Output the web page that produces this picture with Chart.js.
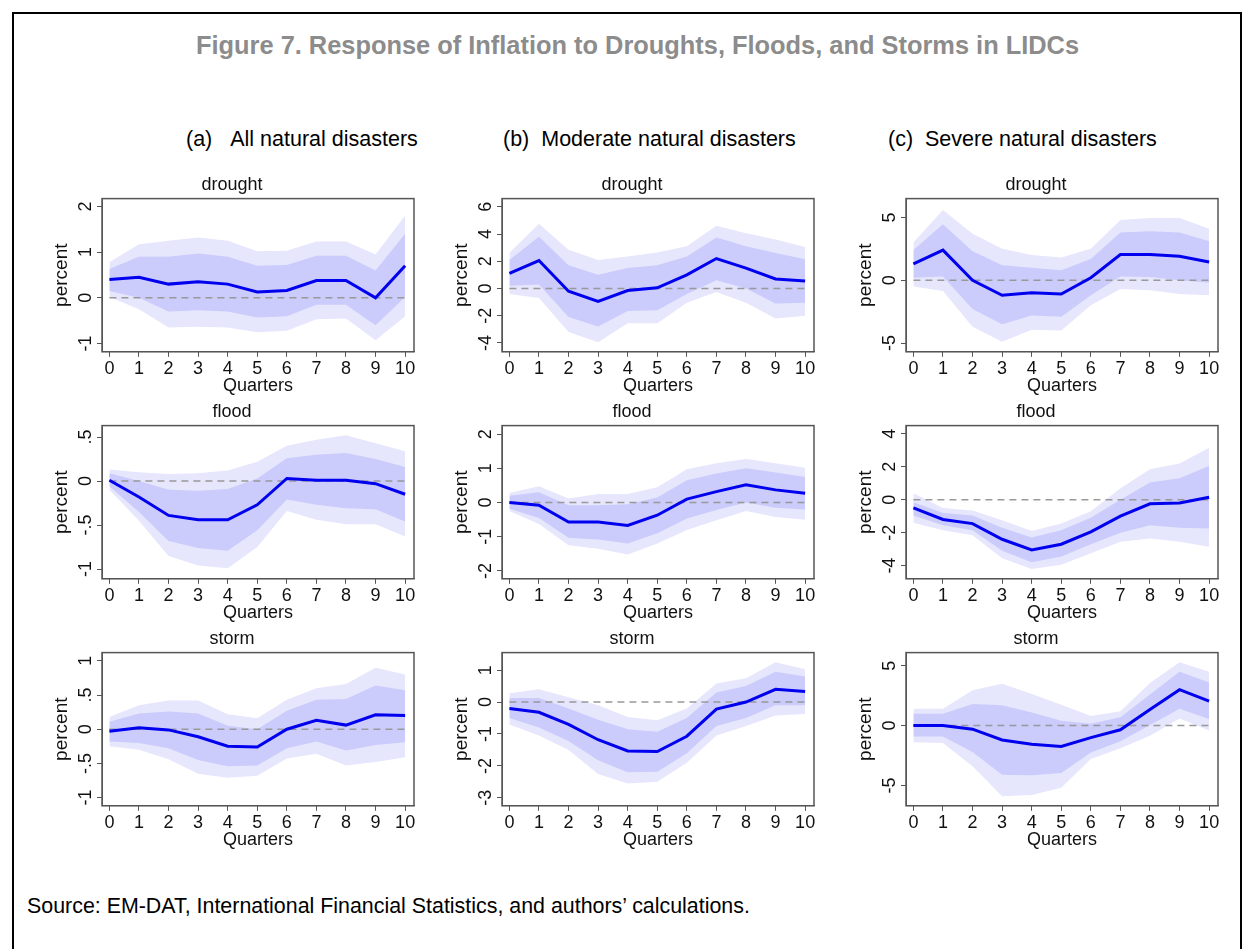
<!DOCTYPE html>
<html>
<head>
<meta charset="utf-8">
<script src="https://cdn.jsdelivr.net/npm/chart.js@4.4.0/dist/chart.umd.min.js"></script>
<style>
  body { margin: 0; background: #fff; font-family: 'Liberation Sans', Arial, sans-serif; }
  #frame { position: absolute; left: 12px; top: 12px; width: 1226px; height: 950px; border: 2px solid #000; border-bottom: none; }
  .t { position: absolute; white-space: nowrap; color: #000; }
  canvas { position: absolute; }
</style>
</head>
<body>
<div id="frame"></div>
<div class="t" style="left:196px;top:31px;font-size:25.4px;font-weight:bold;color:#8c8c8c;">Figure 7. Response of Inflation to Droughts, Floods, and Storms in LIDCs</div>
<div class="t" style="left:186px;top:127px;font-size:21.5px;">(a)&nbsp;&nbsp;&nbsp;All natural disasters</div>
<div class="t" style="left:503px;top:127px;font-size:21.5px;">(b)&nbsp; Moderate natural disasters</div>
<div class="t" style="left:888px;top:127px;font-size:21.5px;">(c)&nbsp; Severe natural disasters</div>
<div class="t" style="left:27px;top:894px;font-size:21.4px;">Source: EM-DAT, International Financial Statistics, and authors’ calculations.</div>

<canvas id="c0"></canvas><canvas id="c1"></canvas><canvas id="c2"></canvas>
<canvas id="c3"></canvas><canvas id="c4"></canvas><canvas id="c5"></canvas>
<canvas id="c6"></canvas><canvas id="c7"></canvas><canvas id="c8"></canvas>

<script>
const quarters = [0, 1, 2, 3, 4, 5, 6, 7, 8, 9, 10];

// (a) All natural disasters
const aDroughtIrf  = [0.4, 0.45, 0.3, 0.35, 0.3, 0.13, 0.16, 0.38, 0.38, 0.0, 0.7];
const aDroughtHi68 = [0.63, 0.9, 0.9, 0.97, 0.9, 0.7, 0.72, 0.92, 0.92, 0.6, 1.4];
const aDroughtLo68 = [0.15, 0.0, -0.3, -0.27, -0.3, -0.43, -0.4, -0.15, -0.15, -0.6, 0.02];
const aDroughtHi90 = [0.78, 1.17, 1.25, 1.32, 1.25, 1.02, 1.03, 1.23, 1.23, 0.95, 1.8];
const aDroughtLo90 = [0.02, -0.25, -0.65, -0.63, -0.65, -0.75, -0.72, -0.47, -0.45, -0.93, -0.4];

const aFloodIrf  = [0.01, -0.18, -0.39, -0.44, -0.44, -0.27, 0.03, 0.01, 0.01, -0.03, -0.15];
const aFloodHi68 = [0.09, 0.0, -0.1, -0.11, -0.09, 0.03, 0.26, 0.3, 0.32, 0.25, 0.16];
const aFloodLo68 = [-0.06, -0.35, -0.68, -0.76, -0.79, -0.56, -0.21, -0.27, -0.31, -0.32, -0.46];
const aFloodHi90 = [0.13, 0.1, 0.08, 0.09, 0.12, 0.22, 0.4, 0.47, 0.52, 0.43, 0.34];
const aFloodLo90 = [-0.1, -0.45, -0.85, -0.96, -0.99, -0.75, -0.34, -0.44, -0.49, -0.49, -0.63];

const aStormIrf  = [-0.03, 0.02, -0.01, -0.11, -0.25, -0.26, 0, 0.13, 0.06, 0.21, 0.2];
const aStormHi68 = [0.11, 0.23, 0.26, 0.23, 0.05, 0.0, 0.27, 0.43, 0.44, 0.64, 0.57];
const aStormLo68 = [-0.18, -0.2, -0.28, -0.45, -0.54, -0.53, -0.28, -0.18, -0.31, -0.23, -0.19];
const aStormHi90 = [0.18, 0.35, 0.42, 0.42, 0.22, 0.16, 0.43, 0.6, 0.66, 0.9, 0.8];
const aStormLo90 = [-0.25, -0.3, -0.44, -0.65, -0.71, -0.68, -0.43, -0.36, -0.53, -0.48, -0.41];

// (b) Moderate natural disasters
const bDroughtIrf  = [1.1, 2.05, -0.2, -0.95, -0.15, 0.05, 1.0, 2.2, 1.5, 0.7, 0.55];
const bDroughtHi68 = [2.1, 3.8, 1.7, 1.0, 1.5, 1.7, 2.35, 3.75, 3.1, 2.6, 2.15];
const bDroughtLo68 = [0.2, 0.3, -2.1, -2.8, -1.65, -1.6, -0.4, 0.6, 0, -1.1, -1.05];
const bDroughtHi90 = [2.6, 4.75, 2.85, 2.1, 2.35, 2.65, 3.1, 4.6, 4.05, 3.6, 3.05];
const bDroughtLo90 = [-0.4, -0.7, -3.2, -3.95, -2.55, -2.55, -1.05, -0.25, -1.05, -2.2, -2.0];

const bFloodIrf  = [0, -0.08, -0.57, -0.57, -0.67, -0.37, 0.1, 0.32, 0.52, 0.37, 0.27];
const bFloodHi68 = [0.2, 0.3, -0.08, -0.08, -0.05, 0.15, 0.65, 0.85, 1.0, 0.88, 0.75];
const bFloodLo68 = [-0.18, -0.45, -1.03, -1.08, -1.2, -0.9, -0.47, -0.22, 0, -0.15, -0.2];
const bFloodHi90 = [0.28, 0.48, 0.12, 0.25, 0.25, 0.45, 0.97, 1.15, 1.27, 1.15, 1.02];
const bFloodLo90 = [-0.25, -0.63, -1.25, -1.35, -1.52, -1.2, -0.8, -0.52, -0.25, -0.42, -0.5];

const bStormIrf  = [-0.2, -0.32, -0.7, -1.18, -1.53, -1.55, -1.07, -0.22, 0, 0.4, 0.33];
const bStormHi68 = [0.13, 0.13, -0.2, -0.55, -0.85, -0.93, -0.5, 0.3, 0.5, 0.95, 0.8];
const bStormLo68 = [-0.5, -0.8, -1.22, -1.82, -2.2, -2.18, -1.6, -0.75, -0.5, -0.1, -0.1];
const bStormHi90 = [0.28, 0.4, 0.15, -0.1, -0.47, -0.57, -0.2, 0.58, 0.75, 1.25, 1.03];
const bStormLo90 = [-0.7, -1.05, -1.5, -2.25, -2.55, -2.5, -1.9, -1.05, -0.75, -0.42, -0.37];

// (c) Severe natural disasters
const cDroughtIrf  = [1.3, 2.4, 0, -1.2, -1.0, -1.1, 0.2, 2.05, 2.05, 1.9, 1.45];
const cDroughtHi68 = [2.4, 4.45, 2.3, 1.2, 1.0, 0.8, 1.7, 3.8, 3.9, 3.8, 3.1];
const cDroughtLo68 = [0.2, 0.3, -2.3, -3.5, -2.8, -2.9, -1.2, 0.3, 0.25, 0, -0.2];
const cDroughtHi90 = [3.0, 5.6, 3.7, 2.5, 2.0, 1.8, 2.5, 4.8, 4.95, 4.95, 4.1];
const cDroughtLo90 = [-0.5, -0.85, -3.7, -4.9, -3.95, -4.0, -2.0, -0.7, -0.8, -1.1, -1.2];

const cFloodIrf  = [-0.5, -1.2, -1.45, -2.4, -3.05, -2.7, -1.95, -1.0, -0.25, -0.2, 0.15];
const cFloodHi68 = [-0.15, -0.8, -0.95, -1.7, -2.3, -1.85, -1.1, 0.0, 1.05, 1.3, 2.05];
const cFloodLo68 = [-0.95, -1.55, -1.85, -3.1, -3.8, -3.45, -2.7, -2.0, -1.55, -1.7, -1.75];
const cFloodHi90 = [0.4, -0.5, -0.65, -1.25, -1.9, -1.45, -0.7, 0.7, 1.85, 2.2, 3.15];
const cFloodLo90 = [-1.4, -1.85, -2.15, -3.55, -4.2, -3.95, -3.25, -2.55, -2.35, -2.55, -2.85];

const cStormIrf  = [0, 0, -0.3, -1.2, -1.55, -1.75, -1.0, -0.35, 1.35, 3.0, 2.05];
const cStormHi68 = [1.0, 1.0, 1.8, 1.7, 1.1, 0.4, 0.15, 0.7, 2.6, 4.5, 3.6];
const cStormLo68 = [-0.9, -0.9, -2.2, -4.1, -4.15, -3.95, -2.25, -1.3, 0.05, 1.4, 0.55];
const cStormHi90 = [1.4, 1.4, 2.95, 3.5, 2.65, 1.75, 0.8, 1.2, 3.55, 5.3, 4.5];
const cStormLo90 = [-1.4, -1.45, -3.4, -5.9, -5.8, -5.2, -2.8, -1.9, -0.85, 0.6, -0.4];

// y tick labels per panel
const aDroughtTicks = [-1, 0, 1, 2];
const aFloodTicks = [-1, -0.5, 0, 0.5];
const aStormTicks = [-1, -0.5, 0, 0.5, 1];
const bDroughtTicks = [-4, -2, 0, 2, 4, 6];
const bFloodTicks = [-2, -1, 0, 1, 2];
const bStormTicks = [-3, -2, -1, 0, 1];
const cDroughtTicks = [-5, 0, 5];
const cFloodTicks = [-4, -2, 0, 2, 4];
const cStormTicks = [-5, 0, 5];

const panels = [
  { id: 'c0', title: 'drought', irf: aDroughtIrf, lo68: aDroughtLo68, hi68: aDroughtHi68, lo90: aDroughtLo90, hi90: aDroughtHi90, ticks: aDroughtTicks, min: -1.18, max: 2.17 },
  { id: 'c1', title: 'drought', irf: bDroughtIrf, lo68: bDroughtLo68, hi68: bDroughtHi68, lo90: bDroughtLo90, hi90: bDroughtHi90, ticks: bDroughtTicks, min: -4.65, max: 6.6 },
  { id: 'c2', title: 'drought', irf: cDroughtIrf, lo68: cDroughtLo68, hi68: cDroughtHi68, lo90: cDroughtLo90, hi90: cDroughtHi90, ticks: cDroughtTicks, min: -5.7, max: 6.5 },
  { id: 'c3', title: 'flood', irf: aFloodIrf, lo68: aFloodLo68, hi68: aFloodHi68, lo90: aFloodLo90, hi90: aFloodHi90, ticks: aFloodTicks, min: -1.11, max: 0.63 },
  { id: 'c4', title: 'flood', irf: bFloodIrf, lo68: bFloodLo68, hi68: bFloodHi68, lo90: bFloodLo90, hi90: bFloodHi90, ticks: bFloodTicks, min: -2.23, max: 2.25 },
  { id: 'c5', title: 'flood', irf: cFloodIrf, lo68: cFloodLo68, hi68: cFloodHi68, lo90: cFloodLo90, hi90: cFloodHi90, ticks: cFloodTicks, min: -4.8, max: 4.5 },
  { id: 'c6', title: 'storm', irf: aStormIrf, lo68: aStormLo68, hi68: aStormHi68, lo90: aStormLo90, hi90: aStormHi90, ticks: aStormTicks, min: -1.12, max: 1.12 },
  { id: 'c7', title: 'storm', irf: bStormIrf, lo68: bStormLo68, hi68: bStormHi68, lo90: bStormLo90, hi90: bStormHi90, ticks: bStormTicks, min: -3.25, max: 1.55 },
  { id: 'c8', title: 'storm', irf: cStormIrf, lo68: cStormLo68, hi68: cStormHi68, lo90: cStormLo90, hi90: cStormHi90, ticks: cStormTicks, min: -6.7, max: 6.1 }
];

const colLeft = [50, 450, 854];
const rowTop = [174, 401, 628];
const W = 370, H = 223;
const FONT = 'Liberation Sans';

function fmt(v) {
  return String(v).replace('0.', '.');
}

// draws y tick labels rotated like Stata, and the box round the plot
const statPlugin = {
  id: 'stat',
  afterDraw(chart) {
    const ctx = chart.ctx, y = chart.scales.y, a = chart.chartArea;
    ctx.save();
    ctx.font = '18px "Liberation Sans", Arial';
    ctx.fillStyle = '#111';
    ctx.textAlign = 'center';
    ctx.textBaseline = 'bottom';
    y.ticks.forEach(t => {
      const py = y.getPixelForValue(t.value);
      ctx.save();
      ctx.translate(a.left - 7, py);
      ctx.rotate(-Math.PI / 2);
      ctx.fillText(fmt(t.value), 0, 0);
      ctx.restore();
    });
    ctx.strokeStyle = '#555';
    ctx.lineWidth = 1.5;
    ctx.strokeRect(a.left, a.top, a.right - a.left, a.bottom - a.top);
    ctx.restore();
  }
};

panels.forEach((p, i) => {
  const cv = document.getElementById(p.id);
  cv.width = W; cv.height = H;
  cv.style.left = colLeft[i % 3] + 'px';
  cv.style.top = rowTop[Math.floor(i / 3)] + 'px';
  cv.style.width = W + 'px';
  cv.style.height = H + 'px';
  const pts = arr => arr.map((v, k) => ({ x: quarters[k], y: v }));
  new Chart(cv, {
    type: 'line',
    data: {
      datasets: [
        { data: pts(p.irf), borderColor: '#0000ee', borderWidth: 3, pointRadius: 0, fill: false },
        { data: pts(quarters.map(() => 0)), borderColor: '#999', borderWidth: 1.5, borderDash: [7, 5], pointRadius: 0, fill: false },
        { data: pts(p.hi68), borderWidth: 0, pointRadius: 0, fill: 3, backgroundColor: '#cbcbfc' },
        { data: pts(p.lo68), borderWidth: 0, pointRadius: 0, fill: false },
        { data: pts(p.hi90), borderWidth: 0, pointRadius: 0, fill: 5, backgroundColor: '#e6e6fd' },
        { data: pts(p.lo90), borderWidth: 0, pointRadius: 0, fill: false }
      ]
    },
    options: {
      responsive: false,
      animation: false,
      devicePixelRatio: 1,
      layout: { padding: { top: 0, right: 6, left: 0, bottom: 0 } },
      plugins: {
        legend: { display: false },
        tooltip: { enabled: false },
        title: { display: true, text: p.title, color: '#111', font: { family: FONT, size: 18, weight: 'normal' }, padding: { top: 0, bottom: 3 } }
      },
      scales: {
        x: {
          type: 'linear', min: -0.25, max: 10.3,
          afterBuildTicks: s => { s.ticks = quarters.map(v => ({ value: v })); },
          ticks: { color: '#111', font: { family: FONT, size: 18 }, padding: 1, maxRotation: 0 },
          grid: { drawOnChartArea: false, drawTicks: true, tickLength: 5, color: '#555' },
          border: { color: '#555' },
          title: { display: true, text: 'Quarters', color: '#111', font: { family: FONT, size: 18 }, padding: { top: -5, bottom: 0 } }
        },
        y: {
          min: p.min, max: p.max,
          afterBuildTicks: s => { s.ticks = p.ticks.map(v => ({ value: v })); },
          afterFit: s => { s.width = 52; },
          ticks: { color: 'rgba(0,0,0,0)', font: { size: 18 } },
          grid: { drawOnChartArea: false, drawTicks: true, tickLength: 5, color: '#555' },
          border: { color: '#555' },
          title: { display: true, text: 'percent', color: '#111', font: { family: FONT, size: 19 }, padding: 0 }
        }
      }
    },
    plugins: [statPlugin]
  });
});
</script>
</body>
</html>
